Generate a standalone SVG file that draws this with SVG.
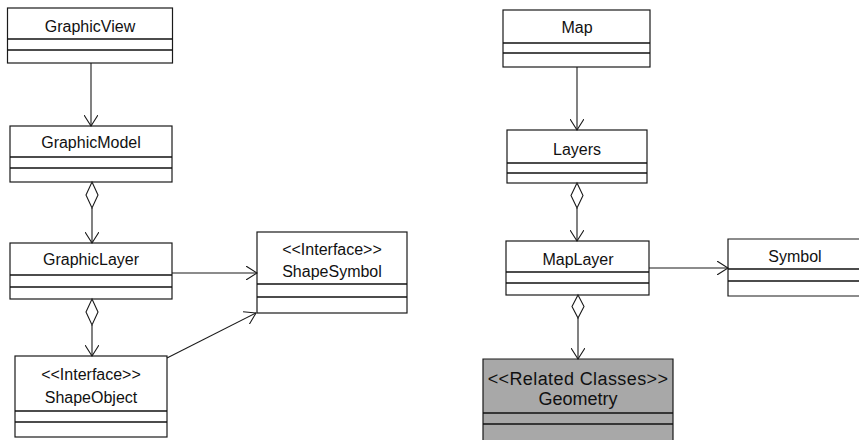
<svg xmlns="http://www.w3.org/2000/svg" width="859" height="440" viewBox="0 0 859 440">
  <defs>
    <style>
      .box { fill: #ffffff; stroke: #1a1a1a; stroke-width: 1.2; }
      .box.related { fill: #a8a8a8; }
      .sep { stroke: #111111; stroke-width: 1.3; }
      .lbl { font-family: "Liberation Sans", Arial, sans-serif; font-size: 16px; fill: #111111; text-anchor: middle; }
      .lbl.big { font-size: 18px; }
      .edge { fill: none; stroke: #1a1a1a; stroke-width: 1.1; }
      .diamond { fill: #ffffff; stroke: #1a1a1a; stroke-width: 1.1; }
    </style>
    <marker id="open-arrow" viewBox="0 0 12 14" refX="11" refY="7" markerWidth="12" markerHeight="14" markerUnits="userSpaceOnUse" orient="auto">
      <path d="M0,0 L11,7 L0,14" fill="none" stroke="#1a1a1a" stroke-width="1.1"/>
    </marker>
  </defs>

  <rect width="859" height="440" fill="#ffffff"/>

  <!-- GraphicView -->
  <g id="GraphicView">
    <rect class="box" x="7.5" y="8" width="165" height="55"/>
    <line class="sep" x1="7.5" y1="39" x2="172.5" y2="39"/>
    <line class="sep" x1="7.5" y1="50" x2="172.5" y2="50"/>
    <text class="lbl" x="90" y="32">GraphicView</text>
  </g>

  <!-- GraphicModel -->
  <g id="GraphicModel">
    <rect class="box" x="10" y="126" width="162" height="56"/>
    <line class="sep" x1="10" y1="157" x2="172" y2="157"/>
    <line class="sep" x1="10" y1="168" x2="172" y2="168"/>
    <text class="lbl" x="91" y="148">GraphicModel</text>
  </g>

  <!-- GraphicLayer -->
  <g id="GraphicLayer">
    <rect class="box" x="10" y="243" width="162" height="56"/>
    <line class="sep" x1="10" y1="275" x2="172" y2="275"/>
    <line class="sep" x1="10" y1="287" x2="172" y2="287"/>
    <text class="lbl" x="91" y="265">GraphicLayer</text>
  </g>

  <!-- ShapeObject -->
  <g id="ShapeObject">
    <rect class="box" x="15" y="356" width="152" height="81"/>
    <line class="sep" x1="15" y1="411" x2="167" y2="411"/>
    <line class="sep" x1="15" y1="422" x2="167" y2="422"/>
    <text class="lbl" x="91" y="380">&lt;&lt;Interface&gt;&gt;</text>
    <text class="lbl" x="91" y="403">ShapeObject</text>
  </g>

  <!-- ShapeSymbol -->
  <g id="ShapeSymbol">
    <rect class="box" x="257" y="232" width="150" height="81"/>
    <line class="sep" x1="257" y1="284" x2="407" y2="284"/>
    <line class="sep" x1="257" y1="297" x2="407" y2="297"/>
    <text class="lbl" x="332" y="255">&lt;&lt;Interface&gt;&gt;</text>
    <text class="lbl" x="332" y="277">ShapeSymbol</text>
  </g>

  <!-- Map -->
  <g id="Map">
    <rect class="box" x="503" y="10" width="147" height="57"/>
    <line class="sep" x1="503" y1="43" x2="650" y2="43"/>
    <line class="sep" x1="503" y1="53" x2="650" y2="53"/>
    <text class="lbl" x="577" y="33">Map</text>
  </g>

  <!-- Layers -->
  <g id="Layers">
    <rect class="box" x="507" y="130" width="140" height="53"/>
    <line class="sep" x1="507" y1="163" x2="647" y2="163"/>
    <line class="sep" x1="507" y1="173" x2="647" y2="173"/>
    <text class="lbl" x="577" y="155">Layers</text>
  </g>

  <!-- MapLayer -->
  <g id="MapLayer">
    <rect class="box" x="506" y="241" width="143" height="54"/>
    <line class="sep" x1="506" y1="272" x2="649" y2="272"/>
    <line class="sep" x1="506" y1="283" x2="649" y2="283"/>
    <text class="lbl" x="578" y="265">MapLayer</text>
  </g>

  <!-- Symbol (runs past the right edge) -->
  <g id="Symbol">
    <path class="box" d="M870,239 H728 V296 H870"/>
    <line class="sep" x1="728" y1="269" x2="859" y2="269"/>
    <line class="sep" x1="728" y1="281" x2="859" y2="281"/>
    <text class="lbl" x="795" y="262">Symbol</text>
  </g>

  <!-- Geometry (related class, shaded) -->
  <g id="Geometry">
    <path class="box related" d="M483,450 V359 H673 V450"/>
    <line class="sep" x1="483" y1="413" x2="673" y2="413"/>
    <line class="sep" x1="483" y1="424" x2="673" y2="424"/>
    <text class="lbl big" x="578" y="385" letter-spacing="0.4">&lt;&lt;Related Classes&gt;&gt;</text>
    <text class="lbl big" x="578" y="405">Geometry</text>
  </g>

  <!-- Connectors -->
  <g id="connectors">
    <!-- navigable associations -->
    <line class="edge" x1="91" y1="63" x2="91" y2="126" marker-end="url(#open-arrow)"/>
    <line class="edge" x1="577" y1="67" x2="577" y2="130" marker-end="url(#open-arrow)"/>

    <!-- aggregations: diamond at the owner, open arrow at the part -->
    <polygon class="diamond" points="92,182 98,195 92,208 86,195"/>
    <line class="edge" x1="92" y1="208" x2="92" y2="243" marker-end="url(#open-arrow)"/>

    <polygon class="diamond" points="92,299 98,312 92,325 86,312"/>
    <line class="edge" x1="92" y1="325" x2="92" y2="356" marker-end="url(#open-arrow)"/>

    <polygon class="diamond" points="577,183 583,195.5 577,208 571,195.5"/>
    <line class="edge" x1="577" y1="208" x2="577" y2="241" marker-end="url(#open-arrow)"/>

    <polygon class="diamond" points="578,295 584,306.5 578,318 572,306.5"/>
    <line class="edge" x1="578" y1="318" x2="578" y2="359" marker-end="url(#open-arrow)"/>

    <!-- uses ShapeSymbol / Symbol -->
    <line class="edge" x1="172" y1="273" x2="257" y2="273" marker-end="url(#open-arrow)"/>
    <line class="edge" x1="167" y1="358" x2="256" y2="313" marker-end="url(#open-arrow)"/>
    <line class="edge" x1="649" y1="268" x2="728" y2="268" marker-end="url(#open-arrow)"/>
  </g>
</svg>
